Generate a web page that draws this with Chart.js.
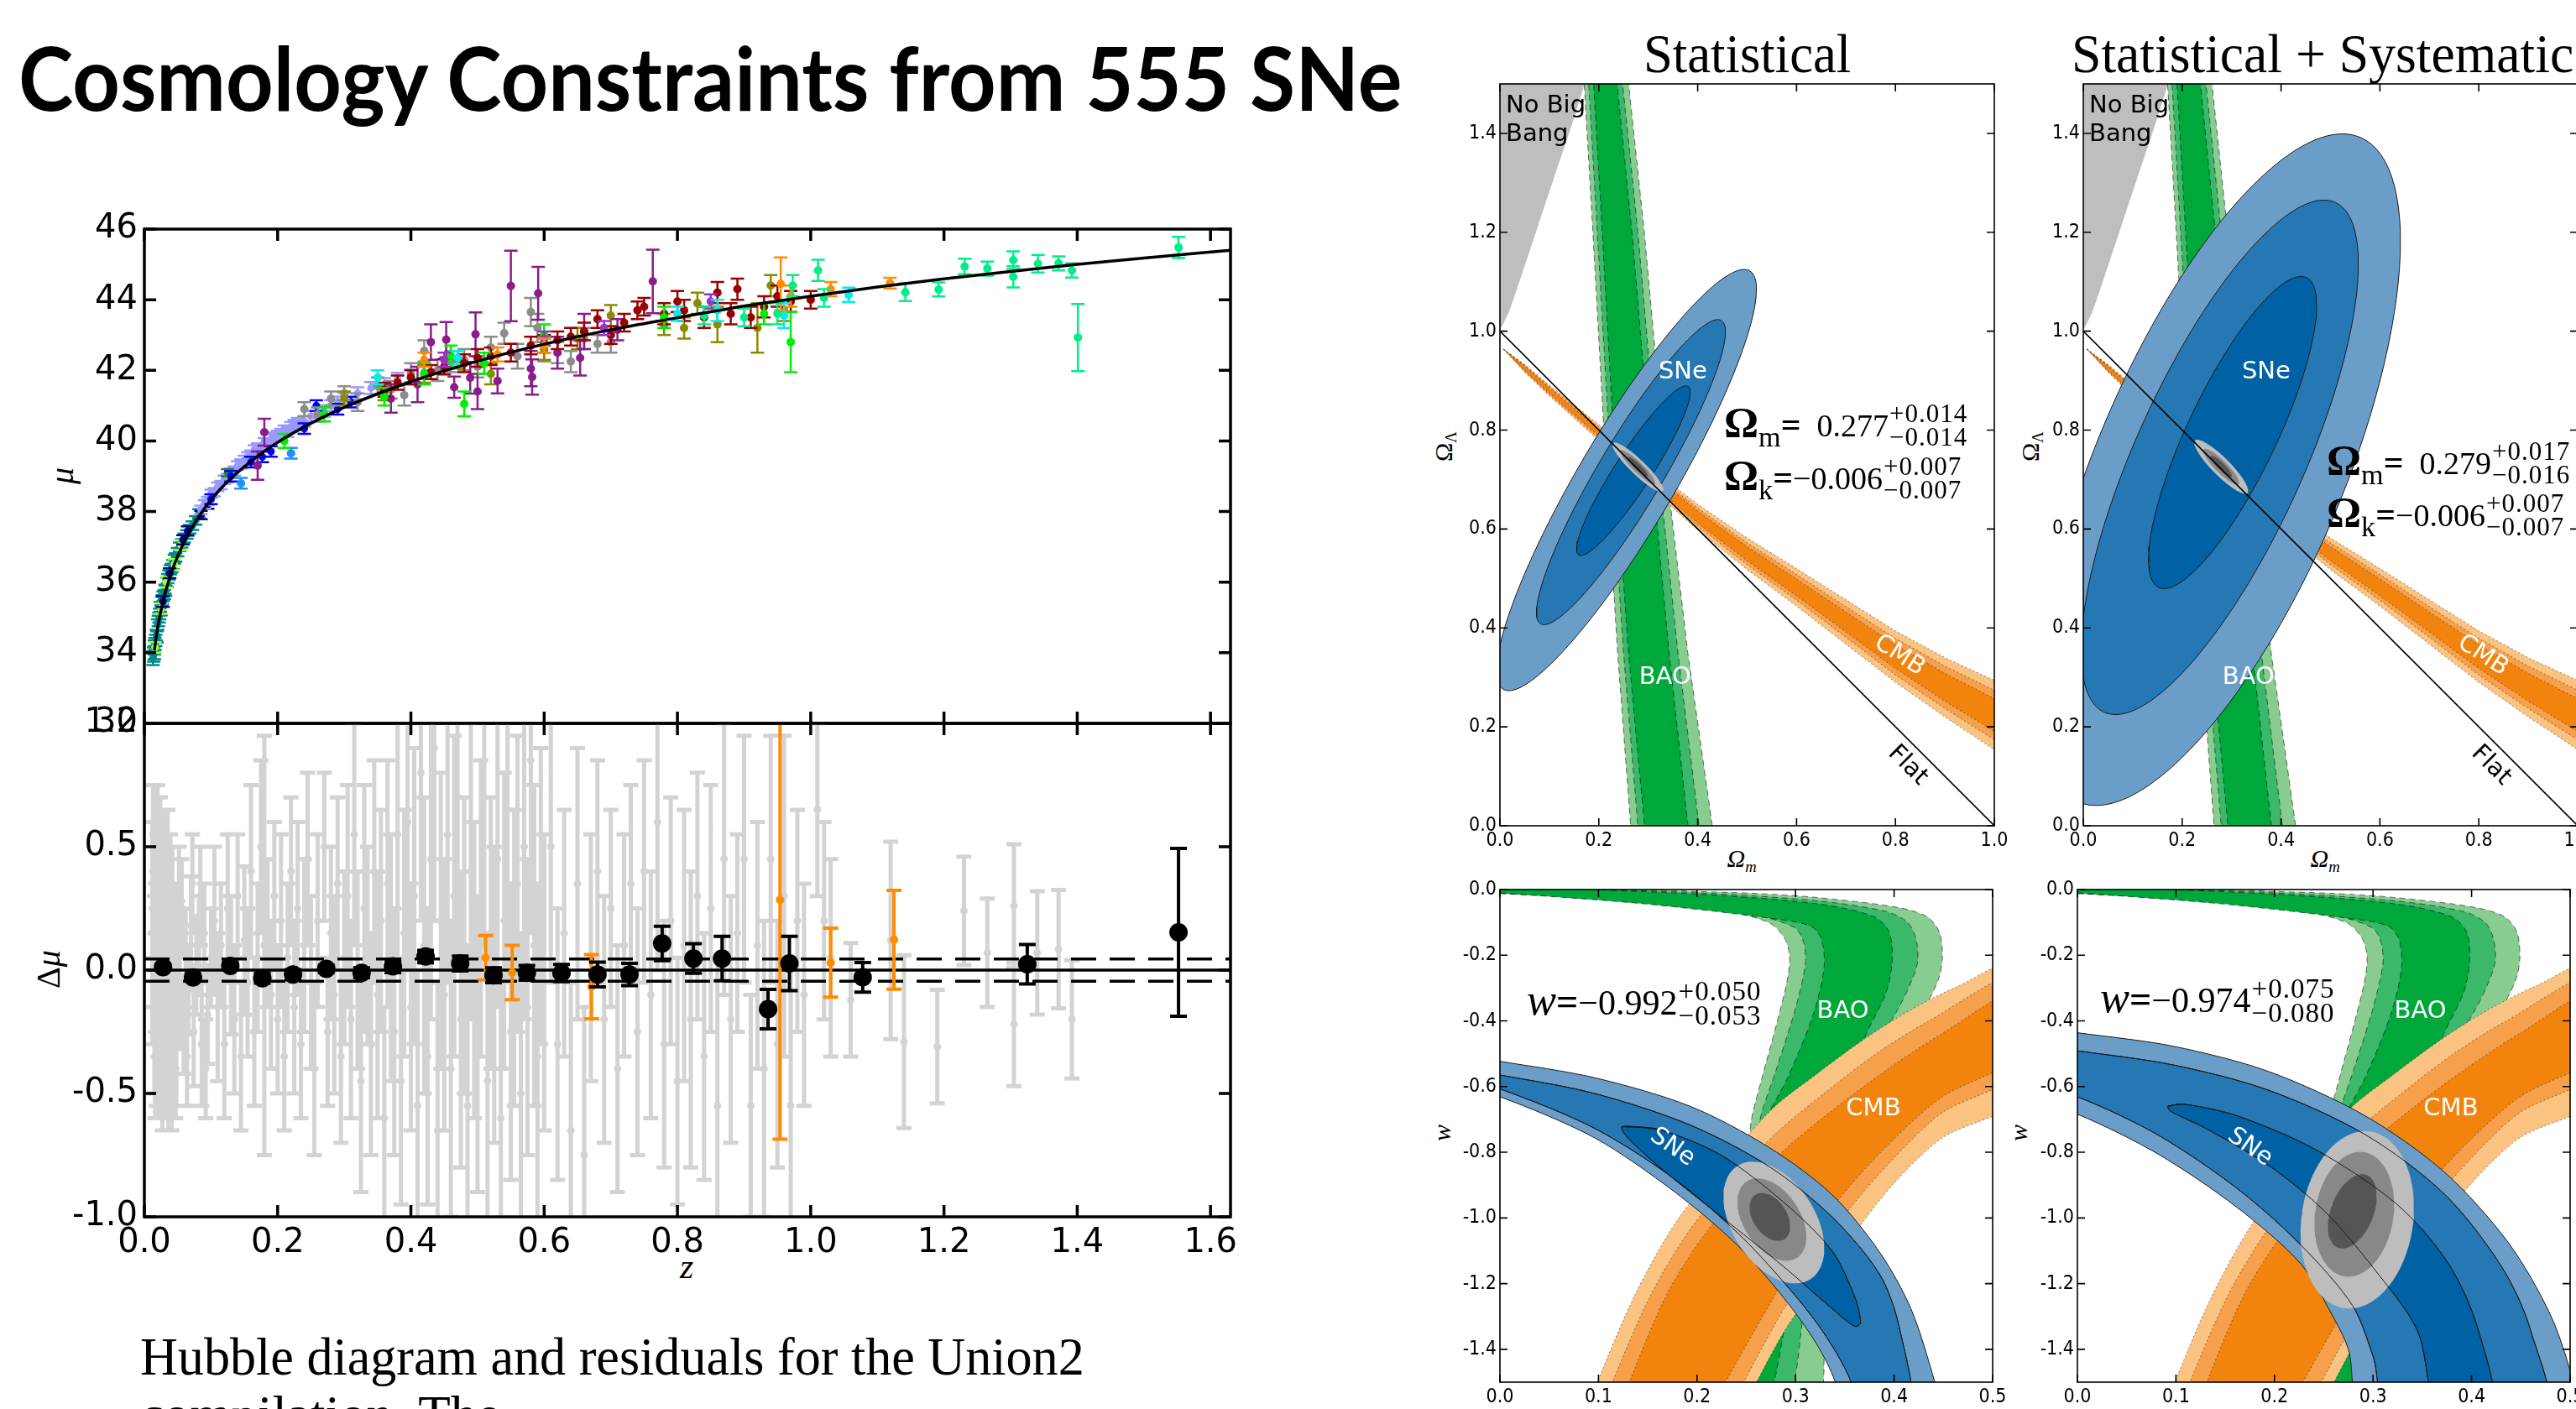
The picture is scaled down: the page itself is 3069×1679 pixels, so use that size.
<!DOCTYPE html>
<html>
<head>
<meta charset="utf-8">
<script src="https://cdn.jsdelivr.net/npm/chart.js@4.4.1/dist/chart.umd.min.js"></script>
<style>
  html, body { margin: 0; padding: 0; background: #fff; width: 3069px; height: 1679px; overflow: hidden; position: relative; }
  .panel { position: absolute; }
  .panel canvas { display: block; }
  .t { position: absolute; white-space: nowrap; line-height: 1; transform-origin: 0 0; color: #000; }
  .serif { font-family: "Liberation Serif", "DejaVu Serif", serif; }
  .t sub { font-size: 0.62em; vertical-align: -0.3em; }
</style>
</head>
<body>
<div id="ttl" class="t" style="font: 700 106px Lato, 'DejaVu Sans', sans-serif;">Cosmology Constraints from 555 SNe</div>
<div id="cap1" class="t serif" style="font-size: 63px;">Hubble diagram and residuals for the Union2</div>
<div id="cap2" class="t serif" style="font-size: 63px;">compilation. The</div>
<div id="tStat" class="t serif" style="font-size: 66px;">Statistical</div>
<div id="tSys" class="t serif" style="font-size: 66px;">Statistical + Systematic</div>
<div id="muLab" class="t serif" style="font-size: 40px;"><i>μ</i></div>
<div id="dmuLab" class="t serif" style="font-size: 40px;">Δ<i>μ</i></div>
<div id="zLab" class="t serif" style="font-size: 42px;"><i>z</i></div>
<div id="omLab1" class="t serif" style="font-size: 30px;"><i>Ω<sub>m</sub></i></div>
<div id="omLab2" class="t serif" style="font-size: 30px;"><i>Ω<sub>m</sub></i></div>
<div id="olLab1" class="t serif" style="font-size: 30px;">Ω<sub>Λ</sub></div>
<div id="olLab2" class="t serif" style="font-size: 30px;">Ω<sub>Λ</sub></div>
<div id="wLab1" class="t serif" style="font-size: 30px;"><i>w</i></div>
<div id="wLab2" class="t serif" style="font-size: 30px;"><i>w</i></div>

<script>
// ============================================================
//  Union2 Hubble diagram + cosmology constraint contours
// ============================================================

// ---------- axis ticks ----------
const Z_TICKS   = [0, 0.2, 0.4, 0.6, 0.8, 1.0, 1.2, 1.4, 1.6];
const MU_TICKS  = [32, 34, 36, 38, 40, 42, 44, 46];
const DMU_TICKS = [-1, -0.5, 0, 0.5, 1];
const OM_TICKS  = [0, 0.2, 0.4, 0.6, 0.8, 1.0];
const OL_TICKS  = [0, 0.2, 0.4, 0.6, 0.8, 1.0, 1.2, 1.4];
const WOM_TICKS = [0, 0.1, 0.2, 0.3, 0.4, 0.5];
const W_TICKS   = [0, -0.2, -0.4, -0.6, -0.8, -1.0, -1.2, -1.4];

// ---------- Hubble diagram: best fit curve ----------
const hubbleCurveZ  = [0.015, 0.02, 0.03, 0.04, 0.05, 0.07, 0.1, 0.13, 0.17, 0.2, 0.25, 0.3, 0.4, 0.5, 0.6, 0.7, 0.8, 0.9, 1.0, 1.1, 1.2, 1.3, 1.4, 1.5, 1.63];
const hubbleCurveMu = [34.06, 34.72, 35.6, 36.24, 36.74, 37.5, 38.33, 38.94, 39.57, 39.96, 40.5, 40.95, 41.68, 42.26, 42.74, 43.15, 43.49, 43.82, 44.1, 44.36, 44.59, 44.8, 45.0, 45.18, 45.4];

// ---------- Hubble diagram: SNe per sample [z, mu, err] ----------
const snTeal = [[0.013,33.85,0.2],[0.014,33.95,0.2],[0.015,34.0,0.18],[0.015,34.15,0.2],[0.016,34.25,0.17],[0.017,34.35,0.16],[0.018,34.5,0.15],
  [0.019,34.45,0.16],[0.02,34.8,0.15],[0.021,34.9,0.15],[0.022,35.0,0.14],[0.023,35.1,0.15],[0.024,35.3,0.14],[0.025,35.2,0.14],
  [0.026,35.45,0.14],[0.027,35.5,0.13],[0.028,35.6,0.14],[0.03,35.65,0.13],[0.031,35.8,0.13],[0.032,35.75,0.14],[0.034,36.0,0.13],
  [0.035,36.1,0.13],[0.037,36.2,0.13],[0.039,36.35,0.13],[0.041,36.4,0.12],[0.043,36.5,0.13],[0.045,36.65,0.13],[0.047,36.7,0.12],
  [0.05,36.85,0.12],[0.053,37.0,0.12],[0.056,37.1,0.12],[0.06,37.25,0.13],[0.064,37.35,0.12],[0.068,37.5,0.12],[0.072,37.6,0.12],
  [0.077,37.75,0.12],[0.082,37.95,0.12]];
const snYellowGreen = [[0.016,34.15,0.15],[0.025,35.25,0.15],[0.033,36.0,0.15],[0.045,36.5,0.15],[0.055,37.05,0.14]];
const snNavy = [[0.028,35.45,0.15],[0.038,36.25,0.14],[0.058,37.2,0.13],[0.065,37.45,0.13],[0.085,37.9,0.12],[0.095,38.2,0.12]];
const snPeriwinkle = [[0.085,38.05,0.12],[0.09,38.2,0.12],[0.095,38.3,0.12],[0.1,38.5,0.12],[0.105,38.55,0.12],[0.11,38.7,0.12],
  [0.115,38.75,0.12],[0.12,38.9,0.12],[0.125,38.95,0.12],[0.13,39.1,0.12],[0.135,39.15,0.13],[0.14,39.3,0.12],[0.145,39.35,0.13],
  [0.15,39.45,0.13],[0.155,39.55,0.13],[0.16,39.6,0.13],[0.165,39.75,0.13],[0.17,39.8,0.13],[0.175,39.7,0.13],[0.18,39.95,0.13],
  [0.185,39.9,0.14],[0.19,40.05,0.14],[0.195,40.1,0.14],[0.2,40.15,0.14],[0.205,40.2,0.14],[0.21,40.3,0.14],[0.215,40.25,0.14],
  [0.22,40.4,0.14],[0.225,40.45,0.15],[0.23,40.5,0.15],[0.24,40.55,0.15],[0.25,40.7,0.15],[0.26,40.8,0.15],[0.27,40.85,0.16],
  [0.28,41.0,0.16],[0.29,41.1,0.16],[0.3,41.2,0.16],[0.32,41.35,0.17],[0.34,41.5,0.17],[0.36,41.6,0.18],[0.38,41.75,0.18],
  [0.4,41.85,0.18],[0.42,41.95,0.2]];
const snForest = [[0.125,39.1,0.1]];
const snBlue = [[0.1,38.35,0.14],[0.13,39.0,0.15],[0.16,39.4,0.15],[0.177,39.55,0.15],[0.19,39.7,0.15],[0.24,40.35,0.15],[0.258,41.0,0.15],[0.29,40.9,0.15],[0.31,41.1,0.15]];
const snSky = [[0.145,38.8,0.15],[0.22,39.65,0.15]];
const snGrey = [[0.24,40.9,0.2],[0.26,40.75,0.2],[0.28,41.2,0.2],[0.3,41.35,0.2],[0.32,41.1,0.25],[0.35,41.55,0.25],[0.37,41.45,0.25],
  [0.39,41.3,0.3],[0.4,41.9,0.3],[0.42,42.55,0.3],[0.44,42.0,0.3],[0.46,42.25,0.3],[0.48,42.3,0.3],[0.5,42.1,0.3],[0.52,42.65,0.3],
  [0.54,43.05,0.3],[0.56,42.4,0.35],[0.58,43.65,0.4],[0.59,43.2,0.4],[0.6,42.6,0.35],[0.62,42.5,0.3],[0.64,42.25,0.3],[0.66,42.9,0.3],
  [0.68,42.75,0.25],[0.7,42.8,0.3]];
const snOlive = [[0.3,41.2,0.2],[0.36,41.35,0.2],[0.42,41.9,0.25],[0.47,42.3,0.25],[0.52,41.9,0.3],[0.6,42.6,0.3],[0.65,42.9,0.3],
  [0.7,43.55,0.3],[0.78,43.3,0.3],[0.81,43.2,0.3],[0.83,43.9,0.3],[0.86,43.3,0.5],[0.92,43.2,0.7],[0.94,44.4,0.3],[0.96,43.7,0.3]];
const snPurple = [[0.17,39.3,0.4],[0.18,40.25,0.38],[0.37,41.2,0.4],[0.41,41.6,0.5],[0.43,42.8,0.5],[0.453,42.87,0.5],[0.465,41.52,0.3],
  [0.489,41.79,0.45],[0.497,43.02,0.62],[0.5,41.4,0.5],[0.53,41.7,0.35],[0.55,44.39,1.0],[0.58,42.05,0.5],[0.582,41.81,0.5],
  [0.591,44.18,0.75],[0.62,42.5,0.45],[0.654,42.35,0.5],[0.66,43.1,0.5],[0.71,43.15,0.3],[0.763,44.52,0.9]];
const snMaroon = [[0.36,41.45,0.2],[0.38,41.65,0.2],[0.4,41.8,0.2],[0.43,41.95,0.2],[0.45,42.1,0.22],[0.48,42.2,0.25],[0.5,42.35,0.25],
  [0.52,42.4,0.25],[0.55,42.5,0.25],[0.58,42.7,0.25],[0.6,42.75,0.25],[0.62,42.85,0.25],[0.64,42.95,0.25],[0.66,43.1,0.25],
  [0.68,43.45,0.25],[0.7,43.0,0.25],[0.72,43.35,0.25],[0.74,43.7,0.25],[0.75,43.8,0.25],[0.78,43.6,0.3],[0.8,43.95,0.3],
  [0.81,43.7,0.3],[0.84,43.5,0.3],[0.86,44.2,0.3],[0.88,43.6,0.3],[0.89,44.3,0.3],[0.91,43.5,0.3],[0.93,43.8,0.3],[0.95,44.1,0.3],
  [0.97,43.95,0.3],[1.0,44.0,0.25]];
const snLime = [[0.21,40.0,0.2],[0.27,40.75,0.2],[0.36,41.25,0.25],[0.42,41.9,0.3],[0.46,42.4,0.3],[0.48,41.05,0.35],[0.51,42.2,0.3],
  [0.6,43.0,0.3],[0.78,43.5,0.3],[0.93,43.6,0.3],[0.97,42.8,0.85]];
const snViolet = [[0.45,42.3,0.2],[0.6,42.9,0.2],[0.69,43.2,0.2],[0.85,43.95,0.2]];
const snCyan = [[0.35,41.8,0.2],[0.47,42.35,0.2],[0.8,43.6,0.2],[0.86,43.7,0.3],[0.96,43.55,0.35],[1.057,44.14,0.2]];
const snOrange = [[0.42,42.3,0.2],[0.53,42.45,0.2],[0.6,42.7,0.2],[0.955,44.45,0.75],[0.97,44.1,0.3],[1.03,44.3,0.2],[1.119,44.47,0.15]];
const snSpring = [[0.84,43.55,0.25],[0.9,43.5,0.25],[0.95,43.6,0.3],[0.973,44.4,0.3],[1.011,44.83,0.3],[1.02,44.05,0.25],
  [1.142,44.21,0.25],[1.192,44.29,0.2],[1.231,44.94,0.22],[1.265,44.88,0.2],[1.304,45.12,0.25],[1.304,44.65,0.3],[1.341,45.02,0.25],
  [1.372,45.03,0.2],[1.392,44.83,0.2],[1.401,42.93,0.95],[1.552,45.48,0.3]];

// ---------- residuals [z, dmu, err] ----------
const residGrey = [[0.012,0.15,0.45],[0.013,0.4,0.35],[0.014,0.3,0.45],[0.015,-0.1,0.4],[0.016,0.45,0.3],[0.016,-0.3,0.3],
  [0.017,0.05,0.3],[0.018,-0.2,0.35],[0.018,0.5,0.25],[0.019,0.25,0.3],[0.02,0.55,0.2],[0.021,-0.05,0.3],[0.021,-0.35,0.25],
  [0.022,0.1,0.25],[0.023,-0.3,0.3],[0.024,0.2,0.25],[0.024,0.45,0.25],[0.025,0.35,0.3],[0.026,-0.15,0.25],[0.027,0.05,0.2],
  [0.027,-0.4,0.25],[0.028,0.3,0.25],[0.029,-0.25,0.3],[0.03,0.12,0.2],[0.031,0.4,0.25],[0.032,-0.1,0.25],[0.033,-0.4,0.2],
  [0.034,0.22,0.2],[0.035,0.45,0.2],[0.036,-0.35,0.3],[0.038,0.05,0.2],[0.039,0.35,0.2],[0.04,-0.2,0.25],[0.041,-0.45,0.2],
  [0.042,0.3,0.2],[0.044,-0.05,0.22],[0.046,0.15,0.2],[0.047,-0.4,0.2],[0.048,-0.3,0.25],[0.05,0.08,0.2],[0.052,0.3,0.2],
  [0.053,-0.12,0.2],[0.056,0.25,0.2],[0.059,-0.22,0.2],[0.062,0.05,0.2],[0.064,-0.35,0.2],[0.066,-0.08,0.18],[0.07,0.18,0.2],
  [0.072,0.35,0.2],[0.074,-0.25,0.22],[0.078,0.02,0.2],[0.082,0.1,0.2],[0.084,0.3,0.2],[0.086,-0.3,0.25],[0.09,0.15,0.2],
  [0.092,-0.4,0.2],[0.095,-0.18,0.2],[0.1,0.05,0.2],
  [0.105,0.2,0.3],[0.11,-0.15,0.3],[0.115,0.1,0.25],[0.12,-0.3,0.3],[0.125,0.25,0.3],[0.13,0.02,0.28],[0.135,-0.2,0.3],
  [0.14,0.3,0.25],[0.145,-0.35,0.3],[0.15,0.12,0.3],[0.155,-0.05,0.3],[0.16,0.4,0.35],[0.165,-0.25,0.3],[0.17,0.05,0.3],
  [0.175,0.5,0.35],[0.18,0.1,0.85],[0.185,0.15,0.3],[0.19,-0.1,0.3],[0.195,0.3,0.3],[0.2,-0.2,0.3],[0.205,0.2,0.35],
  [0.21,-0.35,0.3],[0.215,0.05,0.3],[0.22,0.4,0.3],[0.225,-0.15,0.35],[0.23,0.25,0.35],[0.235,-0.3,0.3],[0.24,0.1,0.35],
  [0.245,0.45,0.35],[0.25,-0.05,0.35],[0.255,-0.4,0.35],[0.26,0.2,0.35],[0.27,0.5,0.3],[0.275,-0.25,0.3],[0.28,0.15,0.35],
  [0.285,-0.1,0.4],[0.29,0.35,0.35],[0.295,-0.35,0.35],[0.3,0.05,0.35],[0.305,0.3,0.45],[0.31,-0.2,0.4],[0.315,0.55,0.45],
  [0.32,0.0,0.4],[0.325,-0.45,0.45],[0.33,0.25,0.5],[0.335,0.1,0.4],[0.34,-0.3,0.45],[0.345,0.4,0.45],[0.35,-0.1,0.5],
  [0.355,0.2,0.45],[0.36,-0.6,0.45],[0.365,0.35,0.5],[0.37,0.05,0.5],[0.375,-0.25,0.5],[0.38,0.55,0.55],[0.385,-0.45,0.5],
  [0.39,0.15,0.5],[0.395,0.6,0.6],[0.4,-0.15,0.5],[0.405,0.3,0.6],[0.41,-0.55,0.55],[0.415,0.8,0.6],[0.42,0.1,0.6],
  [0.425,-0.35,0.6],[0.43,0.45,0.65],[0.435,0.9,0.7],[0.44,-0.65,0.6],[0.445,0.2,0.6],[0.45,-0.1,0.55],[0.455,0.55,0.6],
  [0.46,-0.4,0.6],[0.465,0.3,0.65],[0.47,0.7,0.7],[0.475,-0.2,0.6],[0.48,0.1,0.6],[0.485,-0.55,0.65],[0.49,0.4,0.6],
  [0.495,0.0,0.6],[0.5,-0.3,0.6],[0.505,0.25,0.6],[0.51,0.7,0.6],[0.515,-0.45,0.6],[0.52,0.15,0.55],[0.525,-0.1,0.6],
  [0.53,0.45,0.6],[0.535,-0.6,0.6],[0.54,0.2,0.6],[0.545,0.65,0.7],[0.55,-0.25,0.6],[0.555,0.05,0.6],[0.56,0.35,0.6],
  [0.565,-0.5,0.65],[0.57,0.5,0.7],[0.575,-0.15,0.6],[0.58,0.85,0.7],[0.585,0.1,0.65],[0.59,-0.35,0.7],[0.595,0.3,0.6],
  [0.6,-0.05,0.6],[0.61,0.5,0.55],[0.62,-0.3,0.55],[0.63,0.15,0.5],[0.64,-0.65,0.6],[0.65,0.35,0.55],[0.66,-0.75,0.6],
  [0.67,0.05,0.5],[0.68,0.4,0.45],[0.69,-0.2,0.5],[0.7,0.25,0.4],[0.71,-0.4,0.5],[0.72,0.1,0.45],[0.73,0.35,0.4],
  [0.74,-0.25,0.5],[0.75,0.4,0.45],[0.76,-0.1,0.5],[0.77,0.6,0.6],[0.78,-0.3,0.5],[0.79,0.2,0.5],[0.8,-0.45,0.5],
  [0.81,0.1,0.55],[0.82,-0.2,0.6],[0.83,0.3,0.5],[0.84,-0.35,0.5],[0.85,0.25,0.5],[0.86,-0.55,0.6],[0.87,0.45,0.55],
  [0.88,-0.2,0.5],[0.89,0.15,0.4],[0.9,0.45,0.5],[0.91,-0.55,0.45],[0.92,0.1,0.5],[0.93,-0.4,0.6],[0.94,0.45,0.5],
  [0.95,-0.3,0.5],[0.96,0.3,0.65],[0.97,-0.55,0.6],[0.98,0.2,0.45],[0.99,-0.1,0.45],[1.01,0.65,0.35],[1.02,0.2,0.4],
  [1.03,0.05,0.4],[1.06,-0.12,0.23],[1.12,0.12,0.4],[1.14,-0.29,0.35],[1.19,-0.31,0.23],[1.23,0.24,0.22],[1.265,0.07,0.22],
  [1.305,0.26,0.25],[1.305,-0.22,0.25],[1.34,0.07,0.25],[1.372,0.085,0.24],[1.392,-0.2,0.24]];
const residOrange = [[0.512,0.05,0.09],[0.552,-0.01,0.11],[0.671,-0.067,0.13],[0.954,0.285,0.97],[1.03,0.03,0.14],[1.125,0.123,0.2]];
const residBinned = [[0.028,0.012,0.012],[0.073,-0.03,0.015],[0.129,0.017,0.015],[0.177,-0.033,0.02],[0.223,-0.018,0.02],
  [0.273,0.005,0.015],[0.326,-0.011,0.02],[0.373,0.015,0.025],[0.422,0.055,0.025],[0.474,0.027,0.03],[0.524,-0.021,0.03],
  [0.574,-0.011,0.03],[0.626,-0.012,0.035],[0.68,-0.018,0.05],[0.728,-0.018,0.045],[0.777,0.108,0.07],[0.824,0.047,0.06],
  [0.867,0.047,0.09],[0.936,-0.158,0.08],[0.968,0.027,0.11],[1.078,-0.029,0.06],[1.325,0.024,0.08],[1.552,0.153,0.34]];
const residBand = 0.045;

// ---------- (Om, OL) plane ----------
const noBigBang = [[-0.01,1.0],[0,1.003],[0.019,1.041],[0.045,1.117],[0.077,1.213],[0.109,1.309],[0.141,1.404],[0.171,1.5],[0.18,1.56],[-0.01,1.56]];
const baoOmY      = [1.56, 1.2, 0.75, 0.35, -0.06];
const baoOmOuterL = [0.167, 0.188, 0.213, 0.238, 0.269];
const baoOmOuterR = [0.254, 0.292, 0.333, 0.38, 0.438];
const baoOmMidL   = [0.176, 0.197, 0.223, 0.25, 0.284];
const baoOmMidR   = [0.242, 0.279, 0.318, 0.36, 0.41];
const baoOmDarkL  = [0.186, 0.207, 0.232, 0.26, 0.298];
const baoOmDarkR  = [0.231, 0.267, 0.305, 0.342, 0.387];
const cmbOmX     = [0.007, 0.05, 0.1, 0.2, 0.3, 0.4, 0.5, 0.6, 0.7, 0.8, 0.9, 1.0, 1.05];
const cmbOmY     = [0.964, 0.925, 0.88, 0.795, 0.707, 0.624, 0.55, 0.482, 0.412, 0.342, 0.28, 0.224, 0.196];
const cmbOmOuter = [0.0, 0.008, 0.011, 0.016, 0.02, 0.026, 0.032, 0.038, 0.045, 0.052, 0.06, 0.07, 0.074];
const cmbOmMid   = [0.0, 0.006, 0.008, 0.011, 0.014, 0.018, 0.022, 0.026, 0.031, 0.037, 0.043, 0.05, 0.053];
const cmbOmDark  = [0.0, 0.004, 0.005, 0.007, 0.009, 0.012, 0.014, 0.017, 0.02, 0.024, 0.028, 0.033, 0.035];
// ellipses: [centre Om, centre OL, semi-major, semi-minor, angle deg]
const snOmStat  = [[0.256, 0.699, 0.491, 0.097, 59.5], [0.265, 0.715, 0.357, 0.065, 59.2], [0.27, 0.718, 0.203, 0.037, 57]];
const snOmSys   = [[0.275, 0.72, 0.73, 0.25, 67], [0.276, 0.745, 0.566, 0.17, 65.6], [0.302, 0.795, 0.347, 0.09, 64.5]];
const allOmStat = [[0.279, 0.725, 0.07, 0.015, -44], [0.279, 0.725, 0.048, 0.01, -44], [0.279, 0.726, 0.028, 0.006, -44]];
const allOmSys  = [[0.279, 0.726, 0.075, 0.018, -45], [0.279, 0.726, 0.05, 0.012, -45], [0.279, 0.727, 0.03, 0.007, -45]];

// ---------- (Om, w) plane ----------
const baoWOuter = [[0,0.01],[0.15,0.0],[0.193,-0.005],[0.26,-0.012],[0.321,-0.024],[0.401,-0.053],[0.433,-0.082],[0.446,-0.13],
  [0.449,-0.207],[0.445,-0.274],[0.43,-0.361],[0.404,-0.448],[0.372,-0.592],[0.347,-0.814],[0.327,-1.103],[0.321,-1.6],
  [0.247,-1.6],[0.25,-1.247],[0.255,-0.958],[0.254,-0.727],[0.266,-0.573],[0.279,-0.429],[0.291,-0.284],[0.294,-0.207],
  [0.289,-0.149],[0.273,-0.101],[0.225,-0.063],[0.128,-0.029],[0,-0.012]];
const baoWMid = [[0,0.01],[0.193,-0.009],[0.321,-0.034],[0.392,-0.067],[0.414,-0.101],[0.422,-0.149],[0.424,-0.217],[0.417,-0.284],
  [0.401,-0.38],[0.376,-0.496],[0.347,-0.727],[0.324,-1.006],[0.31,-1.247],[0.289,-1.6],[0.25,-1.6],[0.255,-1.247],
  [0.258,-0.958],[0.262,-0.727],[0.282,-0.534],[0.3,-0.361],[0.31,-0.226],[0.308,-0.159],[0.299,-0.116],[0.257,-0.077],
  [0.128,-0.034],[0,-0.012]];
const baoWDark = [[0,0.01],[0.193,-0.013],[0.321,-0.043],[0.379,-0.082],[0.395,-0.13],[0.398,-0.217],[0.392,-0.313],[0.372,-0.438],
  [0.347,-0.621],[0.324,-0.862],[0.3,-1.151],[0.27,-1.6],[0.254,-1.6],[0.252,-1.247],[0.25,-0.958],[0.266,-0.727],
  [0.292,-0.573],[0.318,-0.38],[0.329,-0.236],[0.326,-0.149],[0.315,-0.111],[0.273,-0.087],[0.144,-0.043],[0,-0.01]];
const cmbWOuter = [[0.085,-1.6],[0.135,-1.247],[0.18,-1.006],[0.225,-0.843],[0.276,-0.669],[0.321,-0.563],[0.369,-0.457],
  [0.417,-0.366],[0.465,-0.294],[0.53,-0.22],[0.53,-0.625],[0.449,-0.756],[0.401,-0.891],[0.36,-1.045],[0.321,-1.209],
  [0.289,-1.343],[0.243,-1.6]];
const cmbWMid = [[0.1,-1.6],[0.151,-1.247],[0.193,-1.035],[0.238,-0.872],[0.282,-0.737],[0.331,-0.616],[0.379,-0.506],
  [0.433,-0.404],[0.53,-0.26],[0.53,-0.545],[0.449,-0.679],[0.401,-0.814],[0.356,-0.968],[0.318,-1.132],[0.279,-1.324],[0.23,-1.6]];
const cmbWDark = [[0.118,-1.6],[0.167,-1.247],[0.209,-1.045],[0.254,-0.891],[0.299,-0.766],[0.347,-0.65],[0.395,-0.544],
  [0.449,-0.438],[0.53,-0.305],[0.53,-0.495],[0.449,-0.631],[0.401,-0.756],[0.353,-0.91],[0.311,-1.074],[0.273,-1.266],[0.21,-1.6]];
const snWStatOuter = [[-0.03,-0.51],[0,-0.523],[0.096,-0.573],[0.193,-0.66],[0.273,-0.785],[0.337,-0.929],[0.385,-1.103],
  [0.417,-1.276],[0.441,-1.497],[0.448,-1.6],[0.347,-1.6],[0.34,-1.497],[0.321,-1.382],[0.289,-1.247],[0.241,-1.083],
  [0.177,-0.92],[0.096,-0.756],[0,-0.631],[-0.03,-0.615]];
const snWStatMid = [[-0.03,-0.555],[0,-0.565],[0.096,-0.621],[0.193,-0.717],[0.273,-0.843],[0.337,-0.997],[0.385,-1.17],
  [0.405,-1.33],[0.416,-1.6],[0.36,-1.6],[0.356,-1.497],[0.327,-1.343],[0.289,-1.199],[0.241,-1.045],[0.177,-0.881],
  [0.096,-0.727],[0,-0.607],[-0.03,-0.59]];
const snWStatInner = [[0.124,-0.722],[0.161,-0.73],[0.225,-0.81],[0.289,-0.955],[0.337,-1.1],[0.36,-1.24],[0.366,-1.32],
  [0.36,-1.33],[0.337,-1.276],[0.289,-1.151],[0.225,-0.997],[0.161,-0.843],[0.128,-0.75]];
const snWSysOuter = [[-0.03,-0.425],[0,-0.436],[0.097,-0.477],[0.194,-0.554],[0.292,-0.689],[0.373,-0.862],[0.437,-1.074],
  [0.48,-1.295],[0.503,-1.497],[0.508,-1.6],[0.292,-1.6],[0.275,-1.4],[0.262,-1.315],[0.227,-1.141],[0.162,-0.968],
  [0.081,-0.804],[0,-0.684],[-0.03,-0.665]];
const snWSysMid = [[-0.03,-0.48],[0,-0.491],[0.097,-0.534],[0.194,-0.611],[0.292,-0.746],[0.373,-0.929],[0.431,-1.151],
  [0.46,-1.343],[0.474,-1.6],[0.318,-1.6],[0.3,-1.421],[0.279,-1.266],[0.227,-1.083],[0.162,-0.91],[0.081,-0.746],
  [0,-0.631],[-0.03,-0.615]];
const snWSysInner = [[0.092,-0.66],[0.107,-0.653],[0.162,-0.689],[0.243,-0.794],[0.324,-0.958],[0.375,-1.132],[0.405,-1.324],
  [0.422,-1.6],[0.368,-1.6],[0.345,-1.343],[0.3,-1.151],[0.25,-0.977],[0.194,-0.84],[0.13,-0.727],[0.094,-0.674]];
// combined: [centre Om, centre w, axis-1 (dOm, dw), axis-2 (dOm, dw)]
const allWStat = [[0.278, -1.014, -0.011, 0.181, 0.05, -0.04], [0.276, -1.005, -0.008, 0.123, 0.034, -0.025], [0.274, -0.997, -0.005, 0.072, 0.02, -0.012]];
const allWSys  = [[0.284, -1.006, 0.008, 0.27, 0.057, 0.0], [0.281, -0.989, 0.006, 0.19, 0.04, 0.0], [0.279, -0.98, 0.01, 0.113, 0.0227, 0.0]];

// ---------- colours ----------
const BLUE   = ['#6a9ec9', '#2678b5', '#0062a4'];
const GREEN  = ['#88cc90', '#3bb86a', '#00a83c'];
const ORANGE = ['#fbc382', '#f6a04c', '#f2840e'];
const GREY   = ['#bdbdbd', '#888888', '#555555'];

// ---------- plugins ----------
const errorBars = {
  id: 'errorBars',
  beforeDatasetDraw(chart, args) {
    const ds = chart.data.datasets[args.index];
    if (!ds.errs) return;
    const { ctx, chartArea: a, scales: { x, y } } = chart;
    ctx.save();
    ctx.beginPath();
    ctx.rect(a.left, a.top, a.right - a.left, a.bottom - a.top);
    ctx.clip();
    ctx.strokeStyle = ds.barColor;
    ctx.lineWidth = ds.barWidth;
    const cap = ds.capSize;
    ctx.beginPath();
    ds.data.forEach((p, i) => {
      const px = x.getPixelForValue(p.x);
      const y0 = y.getPixelForValue(p.y - ds.errs[i]);
      const y1 = y.getPixelForValue(p.y + ds.errs[i]);
      ctx.moveTo(px, y0); ctx.lineTo(px, y1);
      ctx.moveTo(px - cap, y0); ctx.lineTo(px + cap, y0);
      ctx.moveTo(px - cap, y1); ctx.lineTo(px + cap, y1);
    });
    ctx.stroke();
    ctx.restore();
  }
};

// text tied to data coordinates
const notes = {
  id: 'notes',
  afterDatasetsDraw(chart, args, opts) {
    const { ctx, scales: { x, y } } = chart;
    (opts.items || []).forEach(n => {
      ctx.save();
      ctx.translate(x.getPixelForValue(n.x), y.getPixelForValue(n.y));
      ctx.rotate((n.rot || 0) * Math.PI / 180);
      ctx.font = n.font || '29px "DejaVu Sans"';
      ctx.fillStyle = n.color || '#000';
      ctx.textAlign = n.align || 'center';
      ctx.textBaseline = 'middle';
      ctx.fillText(n.text, 0, 0);
      ctx.restore();
    });
  }
};

// box around the plot area with inward ticks on all four sides
const frame = {
  id: 'frame',
  afterDatasetsDraw(chart, args, opts) {
    const { ctx, chartArea: a, scales: { x, y } } = chart;
    const len = opts.tick || 10;
    ctx.save();
    ctx.strokeStyle = '#000';
    ctx.lineWidth = opts.width || 2;
    ctx.beginPath();
    x.ticks.forEach(t => {
      const px = x.getPixelForValue(t.value);
      ctx.moveTo(px, a.bottom); ctx.lineTo(px, a.bottom - len);
      ctx.moveTo(px, a.top); ctx.lineTo(px, a.top + len);
    });
    y.ticks.forEach(t => {
      const py = y.getPixelForValue(t.value);
      ctx.moveTo(a.left, py); ctx.lineTo(a.left + len, py);
      ctx.moveTo(a.right, py); ctx.lineTo(a.right - len, py);
    });
    ctx.stroke();
    ctx.strokeRect(a.left, a.top, a.right - a.left, a.bottom - a.top);
    ctx.restore();
  }
};

Chart.register(errorBars, notes, frame);

// ---------- helpers ----------
const xy = rows => rows.map(r => ({ x: r[0], y: r[1] }));

function ellipse([cx, cy, A, B, deg]) {
  const t = deg * Math.PI / 180, pts = [];
  for (let i = 0; i <= 120; i++) {
    const u = i / 120 * 2 * Math.PI, c = Math.cos(u) * A, s = Math.sin(u) * B;
    pts.push({ x: cx + c * Math.cos(t) - s * Math.sin(t), y: cy + c * Math.sin(t) + s * Math.cos(t) });
  }
  return pts;
}
function ellipseVec([cx, cy, ax, ay, bx, by]) {
  const pts = [];
  for (let i = 0; i <= 120; i++) {
    const u = i / 120 * 2 * Math.PI;
    pts.push({ x: cx + ax * Math.cos(u) + bx * Math.sin(u), y: cy + ay * Math.cos(u) + by * Math.sin(u) });
  }
  return pts;
}
function band(xs, ys, half) {
  const up = xs.map((x, i) => ({ x, y: ys[i] + half[i] }));
  const lo = xs.map((x, i) => ({ x, y: ys[i] - half[i] })).reverse();
  return up.concat(lo);
}
function vband(ys, left, right) {
  return ys.map((y, i) => ({ x: left[i], y })).concat(ys.map((y, i) => ({ x: right[i], y })).reverse());
}

const area = (pts, color, edge, tension) => ({
  data: pts, fill: 'shape', backgroundColor: color, showLine: true,
  borderColor: edge ? edge.color : 'rgba(0,0,0,0)', borderWidth: edge ? edge.width : 1,
  borderDash: edge && edge.dash ? edge.dash : [], pointRadius: 0, tension: tension || 0, clip: 0
});
// closed smooth outline: repeat the first vertex so the spline closes
const loop = rows => xy(rows.concat([rows[0], rows[1]]));
const outline = (pts, color, width, dash, tension) => ({
  data: pts, fill: false, showLine: true, borderColor: color, borderWidth: width,
  borderDash: dash || [], pointRadius: 0, tension: tension || 0, clip: 0
});
const dots = (rows, color, r, bw, cap, barColor) => ({
  data: xy(rows), errs: rows.map(p => p[2]), showLine: false,
  pointRadius: r, pointBackgroundColor: color, pointBorderWidth: 0, pointBorderColor: color,
  borderColor: color, backgroundColor: color, barWidth: bw, capSize: cap, barColor: barColor || color, clip: 0
});

function axis(min, max, ticks, fmt, size, font, pad, show) {
  return {
    type: 'linear', min, max,
    grid: { display: false, drawTicks: false },
    border: { display: false },
    ticks: { display: show, color: '#000', padding: pad, font, autoSkip: false, maxRotation: 0, minRotation: 0,
             callback: v => fmt(v) },
    afterBuildTicks: s => { s.ticks = ticks.map(v => ({ value: v })); },
    afterFit: s => {
      if (s.isHorizontal()) { s.height = size; s.paddingLeft = 0; s.paddingRight = 0; }
      else { s.width = size; s.paddingTop = 0; s.paddingBottom = 0; }
    }
  };
}

function makeChart(box, layers, xAx, yAx, frameOpts, noteItems) {
  const W = box.R - box.L + box.ml + box.mr, H = box.B - box.T + box.mt + box.mb;
  const wrap = document.createElement('div');
  wrap.className = 'panel';
  wrap.style.left = (box.L - box.ml) + 'px';
  wrap.style.top = (box.T - box.mt) + 'px';
  const cv = document.createElement('canvas');
  cv.width = W; cv.height = H;
  cv.style.width = W + 'px'; cv.style.height = H + 'px';
  wrap.appendChild(cv);
  document.body.appendChild(wrap);
  return new Chart(cv.getContext('2d'), {
    type: 'line',
    // first dataset is drawn on top, so hand the layers over top-first
    data: { datasets: layers.slice().reverse() },
    options: {
      responsive: false, animation: false, events: [],
      layout: { autoPadding: false, padding: { left: 0, top: box.mt, right: box.mr, bottom: 0 } },
      scales: { x: xAx, y: yAx },
      plugins: { legend: { display: false }, tooltip: { enabled: false }, frame: frameOpts, notes: { items: noteItems || [] } }
    }
  });
}

const bigFont   = { family: '"DejaVu Sans"', size: 40 };
const smallFont = { family: '"DejaVu Sans Condensed", "DejaVu Sans"', size: 23 };
const f1 = v => v.toFixed(1);
const f0 = v => v.toFixed(0);

// ---------- Hubble diagram ----------
const hubbleBox = { L: 172, T: 273, R: 1466, B: 862, ml: 160, mt: 30, mr: 30, mb: 30 };
makeChart(hubbleBox, [
  dots(snTeal, '#008b8b', 4.5, 2.5, 8),
  dots(snYellowGreen, '#adff2f', 4.5, 2.5, 8),
  dots(snNavy, '#00008b', 4.5, 2.5, 8),
  dots(snPeriwinkle, '#9999ff', 4.5, 2.5, 8),
  dots(snForest, '#228b22', 4.5, 2.5, 8),
  dots(snBlue, '#0000ff', 4.5, 2.5, 8),
  dots(snSky, '#1e90ff', 5, 2.5, 8),
  dots(snGrey, '#8c8c8c', 5, 2.5, 8),
  dots(snOlive, '#8b8b00', 5, 2.5, 8),
  dots(snPurple, '#8b1c8b', 5, 2.5, 8),
  dots(snMaroon, '#990000', 5, 2.5, 8),
  dots(snLime, '#00ee00', 5, 2.5, 8),
  dots(snViolet, '#9932cc', 5, 2.5, 8),
  dots(snCyan, '#00eeee', 5, 2.5, 8),
  dots(snOrange, '#ff8c00', 5, 2.5, 8),
  dots(snSpring, '#00ee88', 5, 2.5, 8),
  { data: hubbleCurveZ.map((z, i) => ({ x: z, y: hubbleCurveMu[i] })), showLine: true, borderColor: '#000',
    borderWidth: 3.5, pointRadius: 0, fill: false, cubicInterpolationMode: 'monotone', clip: 0 }
], axis(0, 1.63, Z_TICKS, f1, 30, bigFont, 8, false),
   axis(32, 46, MU_TICKS, f0, 160, bigFont, 8, true),
   { width: 3.5, tick: 14 });

// ---------- residuals ----------
const residBox = { L: 172, T: 862, R: 1466, B: 1450, ml: 160, mt: 30, mr: 30, mb: 60 };
makeChart(residBox, [
  dots(residGrey, '#d3d3d3', 4.5, 5, 9),
  outline([{ x: 0, y: 0 }, { x: 1.63, y: 0 }], '#000', 3.5),
  outline([{ x: 0, y: residBand }, { x: 1.63, y: residBand }], '#000', 3.5, [30, 16]),
  outline([{ x: 0, y: -residBand }, { x: 1.63, y: -residBand }], '#000', 3.5, [30, 16]),
  dots(residOrange, '#ff8c00', 5, 4, 9),
  dots(residBinned, '#000', 11, 4, 10)
], axis(0, 1.63, Z_TICKS, f1, 60, bigFont, 8, true),
   axis(-1, 1, DMU_TICKS, f1, 160, bigFont, 8, true),
   { width: 3.5, tick: 14 });

// ---------- (Om, OL) planes ----------
const dashEdge = { color: 'rgba(0,0,0,0.55)', width: 1, dash: [7, 5] };
const dotEdge  = { color: 'rgba(0,0,0,0.45)', width: 1, dash: [2, 3] };
const snEdge   = { color: '#1a1a1a', width: 1 };

function omLayers(snE, allE) {
  return [
    area(xy(noBigBang), '#bebebe', null, 0.2),
    area(vband(baoOmY, baoOmOuterL, baoOmOuterR), GREEN[0], dashEdge),
    area(vband(baoOmY, baoOmMidL, baoOmMidR), GREEN[1], dashEdge),
    area(vband(baoOmY, baoOmDarkL, baoOmDarkR), GREEN[2], dashEdge),
    area(band(cmbOmX, cmbOmY, cmbOmOuter), ORANGE[0], dotEdge),
    area(band(cmbOmX, cmbOmY, cmbOmMid), ORANGE[1], dotEdge),
    area(band(cmbOmX, cmbOmY, cmbOmDark), ORANGE[2], dotEdge),
    area(ellipse(snE[0]), BLUE[0], snEdge),
    area(ellipse(snE[1]), BLUE[1], snEdge),
    area(ellipse(snE[2]), BLUE[2], snEdge),
    area(ellipse(allE[0]), GREY[0]),
    area(ellipse(allE[1]), GREY[1]),
    area(ellipse(allE[2]), GREY[2]),
    outline([{ x: 0, y: 1 }, { x: 1, y: 0 }], '#000', 1.6)
  ];
}
const omNotes = [
  { text: 'No Big', x: 0.012, y: 1.455, align: 'left' },
  { text: 'Bang', x: 0.012, y: 1.397, align: 'left' },
  { text: 'SNe', x: 0.37, y: 0.918, color: '#fff' },
  { text: 'BAO', x: 0.334, y: 0.299, color: '#fff' },
  { text: 'CMB', x: 0.808, y: 0.344, rot: 33, color: '#fff' },
  { text: 'Flat', x: 0.825, y: 0.122, rot: 45 }
];
const omFrame = { width: 1.6, tick: 9 };
makeChart({ L: 1787, T: 100, R: 2376, B: 984, ml: 70, mt: 20, mr: 20, mb: 40 }, omLayers(snOmStat, allOmStat),
  axis(0, 1, OM_TICKS, f1, 40, smallFont, 4, true), axis(0, 1.5, OL_TICKS, f1, 70, smallFont, 4, true), omFrame, omNotes);
makeChart({ L: 2482, T: 100, R: 3071, B: 984, ml: 70, mt: 20, mr: 20, mb: 40 }, omLayers(snOmSys, allOmSys),
  axis(0, 1, OM_TICKS, f1, 40, smallFont, 4, true), axis(0, 1.5, OL_TICKS, f1, 70, smallFont, 4, true), omFrame, omNotes);

// ---------- (Om, w) planes ----------
const TW = 0.3;   // spline tension for the (Om, w) contours
function wLayers(outer, mid, inner, allE) {
  return [
    area(xy(baoWOuter), GREEN[0], dashEdge, TW),
    area(xy(baoWMid), GREEN[1], dashEdge, TW),
    area(xy(baoWDark), GREEN[2], dashEdge, TW),
    area(xy(cmbWOuter), ORANGE[0], dotEdge, TW),
    area(xy(cmbWMid), ORANGE[1], dotEdge, TW),
    area(xy(cmbWDark), ORANGE[2], dotEdge, TW),
    area(xy(outer), BLUE[0], snEdge, TW),
    area(xy(mid), BLUE[1], snEdge, TW),
    area(loop(inner), BLUE[2], snEdge, TW),
    area(ellipseVec(allE[0]), GREY[0]),
    area(ellipseVec(allE[1]), GREY[1]),
    area(ellipseVec(allE[2]), GREY[2]),
    outline(xy(mid), '#1a1a1a', 1, null, TW),
    outline(loop(inner), '#1a1a1a', 1, null, TW)
  ];
}
const wNotes = [
  { text: 'BAO', x: 0.348, y: -0.371, color: '#fff' },
  { text: 'CMB', x: 0.379, y: -0.669, color: '#fff' },
  { text: 'SNe', x: 0.175, y: -0.785, rot: 35, color: '#fff' }
];
makeChart({ L: 1787, T: 1060, R: 2374, B: 1647, ml: 70, mt: 20, mr: 20, mb: 40 }, wLayers(snWStatOuter, snWStatMid, snWStatInner, allWStat),
  axis(0, 0.5, WOM_TICKS, f1, 40, smallFont, 4, true), axis(-1.5, 0, W_TICKS, f1, 70, smallFont, 4, true), omFrame, wNotes);
makeChart({ L: 2475, T: 1060, R: 3062, B: 1647, ml: 70, mt: 20, mr: 20, mb: 40 }, wLayers(snWSysOuter, snWSysMid, snWSysInner, allWSys),
  axis(0, 0.5, WOM_TICKS, f1, 40, smallFont, 4, true), axis(-1.5, 0, W_TICKS, f1, 70, smallFont, 4, true), omFrame, wNotes);

// ---------- page text ----------
function baselineOf(el) {
  const mk = document.createElement('span');
  mk.style.cssText = 'display:inline-block;width:0;height:0;vertical-align:baseline';
  el.appendChild(mk);
  const off = mk.getBoundingClientRect().top - el.getBoundingClientRect().top;
  el.removeChild(mk);
  return off;
}
function place(el, x, base, width) {
  el.style.left = '0px'; el.style.top = '0px';
  if (width) el.style.transform = 'scaleX(' + (width / el.offsetWidth) + ')';
  const off = baselineOf(el);
  el.style.left = x + 'px';
  el.style.top = (base - off) + 'px';
  return el;
}
function placeRot(el, cx, cy) {
  el.style.left = (cx - el.offsetWidth / 2) + 'px';
  el.style.top = (cy - el.offsetHeight / 2) + 'px';
  el.style.transformOrigin = '50% 50%';
  el.style.transform = 'rotate(-90deg)';
}
function placeCenter(el, cx, cy) {
  el.style.left = (cx - el.offsetWidth / 2) + 'px';
  el.style.top = (cy - el.offsetHeight / 2) + 'px';
}
function makeText(html, style) {
  const el = document.createElement('div');
  el.className = 't serif';
  el.style.cssText = style;
  el.innerHTML = html;
  document.body.appendChild(el);
  return el;
}
// value with stacked upper / lower errors
function fitLabel(x, base, mainHtml, mainSize, up, dn, supSize, dyUp, dyDn) {
  const main = place(makeText(mainHtml, 'font-size:' + mainSize + 'px'), x, base);
  const right = x + main.getBoundingClientRect().width + 1;
  const st = 'font-size:' + supSize + 'px;letter-spacing:1px';
  place(makeText(up, st), right, base - dyUp);
  place(makeText(dn, st), right, base + dyDn);
}

const $ = id => document.getElementById(id);
place($('ttl'), 22, 132, 1648);
place($('cap1'), 167, 1638, 1125);
place($('cap2'), 167, 1707);
place($('tStat'), 1958, 86, 247);
place($('tSys'), 2468, 86, 598);
placeRot($('muLab'), 74, 567);
placeRot($('dmuLab'), 58, 1155);
placeCenter($('zLab'), 818, 1509);
placeCenter($('omLab1'), 2075, 1025);
placeCenter($('omLab2'), 2770, 1025);
placeRot($('olLab1'), 1722, 532);
placeRot($('olLab2'), 2421, 532);
placeRot($('wLab1'), 1718, 1350);
placeRot($('wLab2'), 2405, 1350);

const OM = '<b style="font-size:1.35em">Ω</b><sub style="font-size:0.9em;vertical-align:-0.35em">m</sub><b style="font-size:1.1em">=</b>&nbsp;&nbsp;';
const OK = '<b style="font-size:1.35em">Ω</b><sub style="font-size:0.9em;vertical-align:-0.35em">k</sub><b style="font-size:1.1em">=</b>';
fitLabel(2054, 520, OM + '0.277', 38, '+0.014', '−0.014', 31, 17, 11);
fitLabel(2054, 583, OK + '−0.006', 38, '+0.007', '−0.007', 31, 17, 11);
fitLabel(2772, 565, OM + '0.279', 38, '+0.017', '−0.016', 31, 17, 11);
fitLabel(2772, 627, OK + '−0.006', 38, '+0.007', '−0.007', 31, 17, 11);
fitLabel(1819, 1209, '<i style="font-size:1.25em">w</i><b style="font-size:1.1em">=</b>−0.992', 42, '+0.050', '−0.053', 33, 17, 12);
fitLabel(2502, 1206, '<i style="font-size:1.25em">w</i><b style="font-size:1.1em">=</b>−0.974', 42, '+0.075', '−0.080', 33, 17, 12);
</script>
</body>
</html>
